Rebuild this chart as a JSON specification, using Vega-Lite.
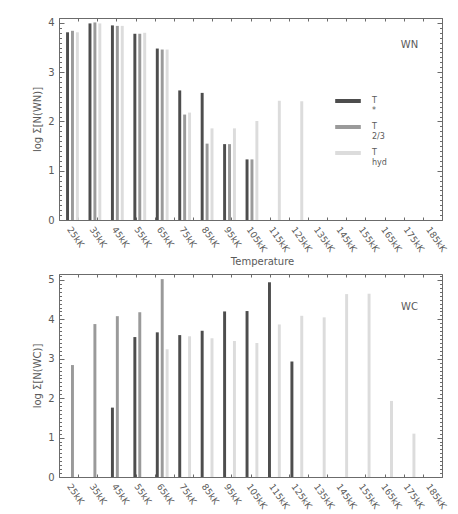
{
  "$schema": "https://vega.github.io/schema/vega-lite/v6.json",
  "padding": {"left": 32, "top": 17, "right": 5, "bottom": 2},
  "background": "white",
  "datasets": {
    "wn": [
      {"temp": "25kK", "series": "T*", "value": 3.81},
      {"temp": "25kK", "series": "T2/3", "value": 3.84},
      {"temp": "25kK", "series": "Thyd", "value": 3.81},
      {"temp": "35kK", "series": "T*", "value": 3.99},
      {"temp": "35kK", "series": "T2/3", "value": 4.01},
      {"temp": "35kK", "series": "Thyd", "value": 3.99},
      {"temp": "45kK", "series": "T*", "value": 3.95},
      {"temp": "45kK", "series": "T2/3", "value": 3.94},
      {"temp": "45kK", "series": "Thyd", "value": 3.94},
      {"temp": "55kK", "series": "T*", "value": 3.78},
      {"temp": "55kK", "series": "T2/3", "value": 3.78},
      {"temp": "55kK", "series": "Thyd", "value": 3.80},
      {"temp": "65kK", "series": "T*", "value": 3.48},
      {"temp": "65kK", "series": "T2/3", "value": 3.46},
      {"temp": "65kK", "series": "Thyd", "value": 3.46},
      {"temp": "75kK", "series": "T*", "value": 2.63},
      {"temp": "75kK", "series": "T2/3", "value": 2.14},
      {"temp": "75kK", "series": "Thyd", "value": 2.18},
      {"temp": "85kK", "series": "T*", "value": 2.58},
      {"temp": "85kK", "series": "T2/3", "value": 1.55},
      {"temp": "85kK", "series": "Thyd", "value": 1.86},
      {"temp": "95kK", "series": "T*", "value": 1.54},
      {"temp": "95kK", "series": "T2/3", "value": 1.54},
      {"temp": "95kK", "series": "Thyd", "value": 1.86},
      {"temp": "105kK", "series": "T*", "value": 1.23},
      {"temp": "105kK", "series": "T2/3", "value": 1.23},
      {"temp": "105kK", "series": "Thyd", "value": 2.01},
      {"temp": "115kK", "series": "Thyd", "value": 2.42},
      {"temp": "125kK", "series": "Thyd", "value": 2.41}
    ],
    "wc": [
      {"temp": "25kK", "series": "T2/3", "value": 2.84},
      {"temp": "35kK", "series": "T2/3", "value": 3.88},
      {"temp": "45kK", "series": "T*", "value": 1.76},
      {"temp": "45kK", "series": "T2/3", "value": 4.08},
      {"temp": "55kK", "series": "T*", "value": 3.55},
      {"temp": "55kK", "series": "T2/3", "value": 4.18},
      {"temp": "65kK", "series": "T*", "value": 3.67},
      {"temp": "65kK", "series": "T2/3", "value": 5.02},
      {"temp": "65kK", "series": "Thyd", "value": 3.24},
      {"temp": "75kK", "series": "T*", "value": 3.60},
      {"temp": "75kK", "series": "Thyd", "value": 3.57},
      {"temp": "85kK", "series": "T*", "value": 3.71},
      {"temp": "85kK", "series": "Thyd", "value": 3.52},
      {"temp": "95kK", "series": "T*", "value": 4.20},
      {"temp": "95kK", "series": "Thyd", "value": 3.45},
      {"temp": "105kK", "series": "T*", "value": 4.21},
      {"temp": "105kK", "series": "Thyd", "value": 3.40},
      {"temp": "115kK", "series": "T*", "value": 4.94},
      {"temp": "115kK", "series": "Thyd", "value": 3.87},
      {"temp": "125kK", "series": "T*", "value": 2.93},
      {"temp": "125kK", "series": "Thyd", "value": 4.09},
      {"temp": "135kK", "series": "Thyd", "value": 4.05},
      {"temp": "145kK", "series": "Thyd", "value": 4.64},
      {"temp": "155kK", "series": "Thyd", "value": 4.65},
      {"temp": "165kK", "series": "Thyd", "value": 1.93},
      {"temp": "175kK", "series": "Thyd", "value": 1.10}
    ]
  },
  "spacing": 6,
  "resolve": {"scale": {"color": "independent"}, "legend": {"color": "independent"}},
  "vconcat": [
    {
      "width": 383,
      "height": 202,
      "resolve": {"scale": {"x": "independent"}, "axis": {"x": "independent", "y": "independent"}},
      "layer": [
        {
          "data": {"name": "wn"},
          "mark": {"type": "bar"},
          "encoding": {
            "x": {
              "field": "temp", "type": "nominal",
              "scale": {"domain": ["25kK","35kK","45kK","55kK","65kK","75kK","85kK","95kK","105kK","115kK","125kK","135kK","145kK","155kK","165kK","175kK","185kK"], "paddingInner": 0.43, "paddingOuter": 0.25, "align": 0.63},
              "axis": {"orient": "bottom", "title": "Temperature", "labelAngle": 55, "labelAlign": "left", "labelBaseline": "top", "labelFontSize": 9, "ticks": false, "domain": false, "grid": false, "labelPadding": 5, "titlePadding": 3, "titleX": 203}
            },
            "xOffset": {"field": "series", "type": "nominal", "scale": {"domain": ["T*", "T2/3", "Thyd"], "paddingInner": 0.4, "paddingOuter": 0}},
            "y": {
              "field": "value", "type": "quantitative",
              "scale": {"domain": [0, 4.1], "nice": false, "zero": false},
              "axis": {"orient": "left", "title": "log Σ[N(WN)]", "values": [0, 1, 2, 3, 4], "ticks": false, "domain": false, "grid": false, "labelPadding": 5, "titlePadding": 5}
            },
            "color": {
              "field": "series", "type": "nominal",
              "scale": {"domain": ["T*", "T2/3", "Thyd"], "range": ["#4d4d4d", "#9a9a9a", "#dcdcdc"]},
              "legend": {
                "orient": "none", "legendX": 277, "legendY": 71, "title": null,
                "symbolType": "M-1.1,-0.17H1.1V0.17H-1.1Z", "symbolSize": 543, "symbolStrokeWidth": 0,
                "rowPadding": 0, "labelOffset": 12, "padding": 0, "labelFontSize": 8,
                "labelBaseline": "middle", "labelColor": "#5a5a5a",
                "labelExpr": "datum.label == 'T*' ? ['T', '   *'] : datum.label == 'T2/3' ? ['T', '   2/3'] : ['T', '   hyd']"
              }
            }
          }
        },
        {
          "data": {"values": [{}]},
          "mark": {"type": "point", "opacity": 0},
          "encoding": {
            "x": {"datum": 0, "type": "quantitative", "scale": {"domain": [0, 20], "nice": false},
                  "axis": {"orient": "top", "tickCount": 20, "labels": false, "domain": false, "grid": false, "title": null, "tickSize": -3}},
            "y": {"datum": 0, "type": "quantitative", "scale": {"domain": [0, 4.1], "nice": false, "zero": false},
                  "axis": {"orient": "left", "tickCount": 41, "labels": false, "domain": false, "grid": false, "title": null,
                           "tickSize": {"condition": {"test": "abs(datum.value - round(datum.value)) < 0.01", "value": -5}, "value": -2.5}}}
          }
        },
        {
          "data": {"values": [{}]},
          "mark": {"type": "point", "opacity": 0},
          "encoding": {
            "x": {"datum": 0, "type": "quantitative", "scale": {"domain": [0, 20], "nice": false},
                  "axis": {"orient": "bottom", "tickCount": 20, "labels": false, "domain": false, "grid": false, "title": null, "tickSize": -3}},
            "y": {"datum": 0, "type": "quantitative", "scale": {"domain": [0, 4.1], "nice": false, "zero": false},
                  "axis": {"orient": "right", "tickCount": 41, "labels": false, "domain": false, "grid": false, "title": null,
                           "tickSize": {"condition": {"test": "abs(datum.value - round(datum.value)) < 0.01", "value": -5}, "value": -2.5}}}
          }
        },
        {
          "data": {"values": [{}]},
          "mark": {"type": "text", "fontSize": 10, "color": "#5a5a5a", "font": "DejaVu Sans"},
          "encoding": {
            "x": {"datum": 18.3, "type": "quantitative", "scale": {"domain": [0, 20], "nice": false}, "axis": null},
            "y": {"datum": 3.55, "type": "quantitative", "scale": {"domain": [0, 4.1], "nice": false, "zero": false}, "axis": null},
            "text": {"value": "WN"}
          }
        }
      ]
    },
    {
      "width": 383,
      "height": 203,
      "resolve": {"scale": {"x": "independent"}, "axis": {"x": "independent", "y": "independent"}},
      "layer": [
        {
          "data": {"name": "wc"},
          "mark": {"type": "bar"},
          "encoding": {
            "x": {
              "field": "temp", "type": "nominal",
              "scale": {"domain": ["25kK","35kK","45kK","55kK","65kK","75kK","85kK","95kK","105kK","115kK","125kK","135kK","145kK","155kK","165kK","175kK","185kK"], "paddingInner": 0.43, "paddingOuter": 0.25, "align": 0.63},
              "axis": {"orient": "bottom", "title": null, "labelAngle": 55, "labelAlign": "left", "labelBaseline": "top", "labelFontSize": 9, "ticks": false, "domain": false, "grid": false, "labelPadding": 5}
            },
            "xOffset": {"field": "series", "type": "nominal", "scale": {"domain": ["T*", "T2/3", "Thyd"], "paddingInner": 0.4, "paddingOuter": 0}},
            "y": {
              "field": "value", "type": "quantitative",
              "scale": {"domain": [0, 5.15], "nice": false, "zero": false},
              "axis": {"orient": "left", "title": "log Σ[N(WC)]", "values": [0, 1, 2, 3, 4, 5], "ticks": false, "domain": false, "grid": false, "labelPadding": 5, "titlePadding": 5}
            },
            "color": {
              "field": "series", "type": "nominal",
              "scale": {"domain": ["T*", "T2/3", "Thyd"], "range": ["#4d4d4d", "#9a9a9a", "#dcdcdc"]},
              "legend": null
            }
          }
        },
        {
          "data": {"values": [{}]},
          "mark": {"type": "point", "opacity": 0},
          "encoding": {
            "x": {"datum": 0, "type": "quantitative", "scale": {"domain": [0, 20], "nice": false},
                  "axis": {"orient": "top", "tickCount": 20, "labels": false, "domain": false, "grid": false, "title": null, "tickSize": -3}},
            "y": {"datum": 0, "type": "quantitative", "scale": {"domain": [0, 5.15], "nice": false, "zero": false},
                  "axis": {"orient": "left", "tickCount": 51, "labels": false, "domain": false, "grid": false, "title": null,
                           "tickSize": {"condition": {"test": "abs(datum.value - round(datum.value)) < 0.01", "value": -5}, "value": -2.5}}}
          }
        },
        {
          "data": {"values": [{}]},
          "mark": {"type": "point", "opacity": 0},
          "encoding": {
            "x": {"datum": 0, "type": "quantitative", "scale": {"domain": [0, 20], "nice": false},
                  "axis": {"orient": "bottom", "tickCount": 20, "labels": false, "domain": false, "grid": false, "title": null, "tickSize": -3}},
            "y": {"datum": 0, "type": "quantitative", "scale": {"domain": [0, 5.15], "nice": false, "zero": false},
                  "axis": {"orient": "right", "tickCount": 51, "labels": false, "domain": false, "grid": false, "title": null,
                           "tickSize": {"condition": {"test": "abs(datum.value - round(datum.value)) < 0.01", "value": -5}, "value": -2.5}}}
          }
        },
        {
          "data": {"values": [{}]},
          "mark": {"type": "text", "fontSize": 10, "color": "#5a5a5a", "font": "DejaVu Sans"},
          "encoding": {
            "x": {"datum": 18.3, "type": "quantitative", "scale": {"domain": [0, 20], "nice": false}, "axis": null},
            "y": {"datum": 4.32, "type": "quantitative", "scale": {"domain": [0, 5.15], "nice": false, "zero": false}, "axis": null},
            "text": {"value": "WC"}
          }
        }
      ]
    }
  ],
  "config": {
    "view": {"stroke": "#6b6b6b", "strokeWidth": 1},
    "axis": {
      "labelFont": "DejaVu Sans", "labelColor": "#5a5a5a", "labelFontSize": 10,
      "titleFont": "DejaVu Sans", "titleColor": "#5a5a5a", "titleFontSize": 10, "titleFontWeight": "normal",
      "tickColor": "#6b6b6b", "tickWidth": 1
    },
    "legend": {"labelFont": "DejaVu Sans", "labelColor": "#5a5a5a"}
  }
}
